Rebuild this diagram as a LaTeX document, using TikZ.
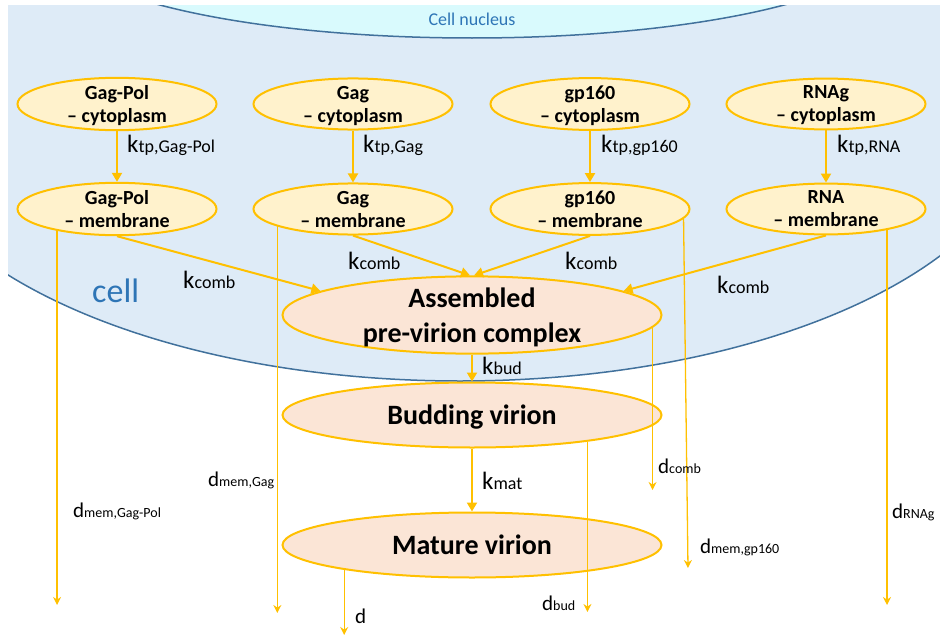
\documentclass[tikz,border=0pt]{standalone}
\usepackage{fontspec}
\setmainfont{Carlito}
\usetikzlibrary{shapes.geometric,arrows.meta}

\definecolor{cellfill}{HTML}{DEEBF7}
\definecolor{cellline}{HTML}{41719C}
\definecolor{nucfill}{HTML}{D9FAFD}
\definecolor{celltext}{HTML}{2E75B6}
\definecolor{gold}{HTML}{FFC000}
\definecolor{protfill}{HTML}{FFF2CC}
\definecolor{virfill}{HTML}{FBE5D6}

% rate constants: big letter, small index
\newcommand{\krate}[1]{{\fontsize{25}{25}\selectfont k}{\fontsize{18}{18}\selectfont #1}}
\newcommand{\drate}[1]{{\fontsize{21}{21}\selectfont d}{\fontsize{14}{14}\selectfont #1}}

\begin{document}
\begin{tikzpicture}[x=1pt,y=-1pt,
  protein/.style={ellipse,draw=gold,line width=2pt,fill=protfill,minimum width=199,minimum height=48,
    inner sep=0,align=center,text depth=0pt,font=\fontsize{20}{23}\selectfont\bfseries},
  virion/.style={ellipse,draw=gold,line width=2pt,fill=virfill,minimum width=379,minimum height=65,
    inner sep=0,align=center,text depth=0pt,font=\fontsize{28}{35}\selectfont\bfseries},
  flux/.style={draw=gold,line width=2pt,-{Triangle[length=9pt,width=10pt]}},
  loss/.style={draw=gold,line width=1.3pt,-{Stealth[length=8pt,width=8pt]}},
  rate/.style={anchor=base west,inner sep=0,text=black}]
  \useasboundingbox (0,0) rectangle (940,637);

  % cell and nucleus
  \begin{scope}
    \clip (8,5) rectangle (940,637);
    \filldraw[fill=cellfill,draw=cellline,line width=1.5pt] (460,112) ellipse [x radius=568,y radius=269];
    \filldraw[fill=nucfill,draw=cellline,line width=1.5pt] (472,-60) ellipse [x radius=417,y radius=98];
  \end{scope}
  \node[text=celltext,font=\fontsize{18}{18}\selectfont,anchor=base,inner sep=0] (nuc) at (472,25) {Cell nucleus};
  \node[text=celltext,font=\fontsize{34}{34}\selectfont,anchor=base west,inner sep=0] (cell) at (92,302) {cell};

  % species
  \node[protein] (gpc) at (117,104) {Gag-Pol\\– cytoplasm};
  \node[protein] (gc) at (353,104) {Gag\\– cytoplasm};
  \node[protein] (ec) at (590,104) {gp160\\– cytoplasm};
  \node[protein] (rc) at (826,104) {RNAg\\– cytoplasm};
  \node[protein] (gpm) at (117,209) {Gag-Pol\\– membrane};
  \node[protein] (gm) at (353,209) {Gag\\– membrane};
  \node[protein] (em) at (590,209) {gp160\\– membrane};
  \node[protein] (rm) at (826,209) {RNA\\– membrane};
  \node[virion] (apc) at (472,315) {Assembled\\pre-virion complex};
  \node[virion] (bv) at (472,415) {Budding virion};
  \node[virion] (mv) at (472,545) {Mature virion};

  % transport and assembly
  \draw[flux] (gpc) -- (gpm);
  \draw[flux] (gc) -- (gm);
  \draw[flux] (ec) -- (em);
  \draw[flux] (rc) -- (rm);
  \draw[flux] (gpm.south) -- (apc.171);
  \draw[flux] (gm.south) -- (apc.93);
  \draw[flux] (em.south) -- (apc.87);
  \draw[flux] (rm.south) -- (apc.9);
  \draw[flux] (apc) -- (bv);
  \draw[flux] (bv) -- (mv);

  % degradation
  \coordinate (eend) at (688,568);
  \draw[loss] (gpm.200) -- (gpm.200 |- 0,605);
  \draw[loss] (gm.193) -- (gm.193 |- 0,613);
  \draw[loss] (em.354) -- (eend);
  \draw[loss] (rm.341) -- (rm.341 |- 0,605);
  \draw[loss] (apc.356) -- (apc.356 |- 0,490);
  \draw[loss] (bv.347) -- (bv.347 |- 0,612);
  \draw[loss] (mv.191) -- (mv.191 |- 0,635);

  % labels
  \node[rate] (ktpgp) at (127,152) {\krate{tp,Gag-Pol}};
  \node[rate] (ktpg) at (363,152) {\krate{tp,Gag}};
  \node[rate] (ktpe) at (601,152) {\krate{tp,gp160}};
  \node[rate] (ktpr) at (837,152) {\krate{tp,RNA}};
  \node[rate] (kcgp) at (183,288) {\krate{comb}};
  \node[rate] (kcg) at (348,269) {\krate{comb}};
  \node[rate] (kce) at (565,269) {\krate{comb}};
  \node[rate] (kcr) at (717,293) {\krate{comb}};
  \node[rate] (kbud) at (482,374) {\krate{bud}};
  \node[rate] (kmat) at (482,489) {\krate{mat}};
  \node[rate] (dgp) at (73,517) {\drate{mem,Gag-Pol}};
  \node[rate] (dg) at (208,486) {\drate{mem,Gag}};
  \node[rate] (dmv) at (355,623) {\drate{}};
  \node[rate] (dbud) at (542,610) {\drate{bud}};
  \node[rate] (dcomb) at (658,473) {\drate{comb}};
  \node[rate] (de) at (700,553) {\drate{mem,gp160}};
  \node[rate] (dr) at (892,518) {\drate{RNAg}};
\end{tikzpicture}
\end{document}
